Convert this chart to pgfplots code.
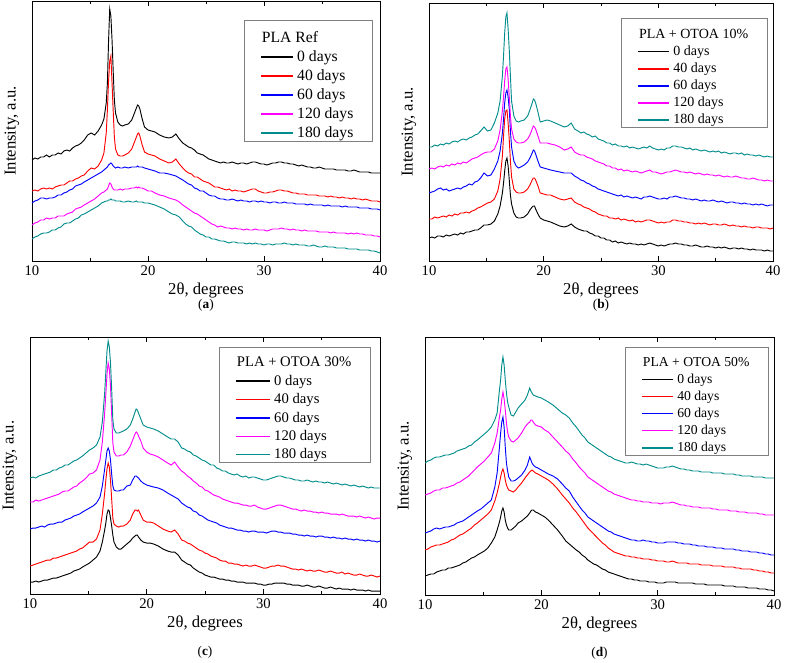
\documentclass[border=0pt]{standalone}
\usepackage{fontspec}
\setmainfont{Liberation Serif}
\usepackage{pgfplots}
\usepackage{pgfplotstable}
\pgfplotsset{compat=1.18}

\definecolor{xrdteal}{RGB}{0,140,140}
\definecolor{xrdmag}{RGB}{255,0,255}

% XRD patterns, intensity in arbitrary (offset) units
% columns: 2theta, 0, 40, 60, 120, 180 days
\pgfplotstableread{
x     k0  k40 k60 k120 k180
10    101 70  58  36  22
10.25 103 71  60  38  24
10.5  102 70  61  39  25
10.75 104 72  63  41  27
11    104 73  63  41  28
11.25 106 72  62  43  28
11.5  104 73  63  42  29
11.75 106 72  63  43  31
12    106 74  64  43  31
12.25 108 75  66  45  33
12.5  107 76  66  45  34
12.75 110 76  68  45  37
13    111 78  69  47  38
13.25 110 80  71  48  38
13.5  113 80  72  49  40
13.75 115 82  75  52  42
14    116 83  76  53  43
14.25 118 85  77  54  46
14.5  121 86  79  56  47
14.8  126 90  81  58  49
15.1  128 93  83  60  51
15.4  126 92  85  62  53
15.7  130 95  87  65  55
16.0  136 101 89  68  58
16.2  142 108 91  69  59
16.4  158 128 93  71  60
16.5  178 151 94  72  60
16.6  220 180 96  75  61
16.7  252 200 97  78  61
16.8  245 205 98  77  62
16.9  221 178 97  74  61
17.0  190 150 95  72  61
17.1  161 124 94  71  61
17.2  148 112 93  71  60
17.4  139 106 94  71  60
17.6  136 105 93  72  60
17.8  135 105 93  71  59
18.0  136 106 94  72  59
18.3  137 108 93  72  60
18.6  141 112 94  73  59
18.8  147 118 94  73  59
19.0  153 124 94  74  60
19.1  156 127 95  73  59
19.2  155 128 94  74  59
19.3  152 125 94  73  59
19.5  142 116 94  73  59
19.7  134 109 93  72  58
20.0  131 107 92  70  58
20.3  130 106 91  70  57
20.6  129 105 90  68  56
21.0  126 102 88  66  54
21.4  124 100 88  65  52
21.8  123 98  87  63  49
22.1  124 99  86  62  47
22.4  127 102 85  61  46
22.7  122 97  83  59  44
23    118 93  81  56  40
23.25 116 90  79  54  37
23.5  114 88  77  52  35
23.75 113 87  76  50  34
24    111 84  73  48  31
24.25 108 84  72  47  29
24.5  107 82  70  45  27
24.75 106 80  70  43  26
25    104 79  68  41  24
25.25 102 78  66  39  24
25.5  101 76  65  37  22
25.75 100 74  65  36  22
26    99  74  63  34  21
26.25 98  73  62  35  20
26.5  99  72  62  34  20
26.75 98  71  61  33  19
27    98  72  61  33  18
27.25 99  70  62  32  19
27.5  98  71  61  33  19
27.75 97  70  60  32  18
28    98  70  61  32  18
28.25 98  69  60  31  18
28.5  97  70  60  32  17
28.75 98  71  59  31  18
29    99  72  60  31  17
29.25 99  72  60  32  18
29.5  98  70  59  31  17
29.75 97  69  60  31  17
30    97  68  59  31  16
30.25 96  68  59  30  17
30.5  97  69  58  31  17
30.75 98  69  59  32  16
31    98  70  59  32  17
31.25 99  71  58  32  17
31.5  99  71  58  33  17
31.75 98  70  59  32  18
32    98  70  58  32  17
32.25 97  69  58  31  17
32.5  97  68  58  32  16
32.75 96  68  57  31  17
33    95  67  57  31  16
33.25 96  67  57  30  16
33.5  95  67  57  31  16
33.75 94  66  56  30  15
34    94  66  57  30  15
34.25 93  66  56  30  16
34.5  93  66  56  30  15
34.75 94  65  56  29  14
35    93  65  56  29  14
35.25 92  65  55  29  15
35.5  92  64  56  29  14
35.75 92  65  55  28  14
36    92  64  55  29  14
36.25 91  64  55  28  13
36.5  91  63  55  28  13
36.75 91  64  54  28  13
37    91  63  55  28  13
37.25 90  63  54  27  12
37.5  90  62  54  28  12
37.75 91  63  54  27  12
38    90  62  54  28  12
38.25 89  62  53  27  11
38.5  89  61  53  27  11
38.75 89  62  53  26  11
39    89  61  53  26  11
39.25 88  60  52  26  10
39.5  88  60  52  25  10
39.75 88  60  52  25  9
40    88  59  51  24  8
}\tabRef

\pgfplotstableread{
x     k0  k40 k60 k120 k180
10    23  42  68  92  114
10.25 24  42  69  93  114
10.5  23  44  70  92  116
10.75 25  43  72  94  115
11    25  44  73  95  117
11.25 24  45  71  94  116
11.5  26  44  72  96  118
11.75 25  46  70  95  117
12    26  45  71  97  119
12.25 27  47  72  96  120
12.5  26  46  73  98  119
12.75 28  48  72  97  121
13    27  48  74  99  122
13.25 29  49  75  98  121
13.5  29  48  77  100 123
13.75 30  50  76  102 124
14    31  51  79  103 126
14.25 31  53  80  104 127
14.5  33  54  83  106 130
14.8  36  56  88  108 134
15.1  36  58  85  109 130
15.4  37  59  86  109 131
15.7  40  62  92  112 138
16.0  47  70  100 120 148
16.2  55  82  110 131 160
16.4  68  105 128 150 185
16.5  78  125 142 164 205
16.6  90  142 158 180 228
16.7  100 150 168 192 244
16.8  103 151 171 194 248
16.9  95  138 164 182 232
17.0  81  121 152 164 211
17.1  66  100 130 145 185
17.2  57  84  114 132 160
17.4  48  72  100 122 145
17.6  44  69  95  119 140
17.8  43  68  93  118 139
18.0  43  68  94  118 140
18.3  44  69  96  119 141
18.6  47  72  99  122 145
18.8  51  76  103 126 151
19.0  54  81  108 132 158
19.1  55  83  111 135 162
19.2  55  83  110 134 161
19.3  52  81  107 132 158
19.5  47  75  100 125 149
19.7  43  68  94  118 139
20.0  41  67  93  118 140
20.3  40  66  92  118 141
20.6  39  66  91  117 140
21.0  37  64  90  116 138
21.4  35  62  89  114 136
21.8  34  61  88  111 134
22.1  35  62  88  112 135
22.4  37  63  88  114 138
22.7  34  59  85  109 132
23    32  57  83  107 130
23.25 31  56  81  106 128
23.5  30  54  80  106 129
23.75 30  53  78  104 127
24    28  52  77  103 126
24.25 27  50  75  102 124
24.5  25  49  74  100 125
24.75 25  47  72  99  122
25    23  46  71  98  121
25.25 23  45  70  97  120
25.5  21  45  69  95  118
25.75 21  43  68  95  118
26    19  43  67  93  116
26.25 20  42  66  93  117
26.5  18  43  65  91  115
26.75 19  41  66  92  115
27    18  42  64  90  114
27.25 17  41  65  91  115
27.5  18  40  64  90  113
27.75 17  41  63  89  114
28    17  39  64  90  113
28.25 16  40  63  89  112
28.5  17  39  62  88  113
28.75 16  40  64  89  114
29    17  41  64  90  113
29.25 18  41  65  91  115
29.5  17  40  64  89  113
29.75 16  39  63  89  112
30    15  38  62  88  111
30.25 16  39  62  87  112
30.5  15  38  63  88  111
30.75 16  39  62  89  113
31    17  39  64  89  113
31.25 17  41  64  90  115
31.5  18  41  65  91  115
31.75 17  40  64  90  114
32    17  40  63  89  114
32.25 16  39  63  89  113
32.5  16  39  62  88  112
32.75 15  38  62  89  113
33    15  38  61  88  111
33.25 16  37  62  87  112
33.5  15  38  61  88  111
33.75 14  37  60  87  110
34    14  38  61  86  111
34.25 15  37  60  87  110
34.5  14  36  60  86  109
34.75 14  37  61  86  110
35    13  37  60  85  109
35.25 14  36  59  86  110
35.5  13  36  60  85  108
35.75 14  37  59  84  109
36    13  36  58  85  108
36.25 12  35  59  84  107
36.5  13  36  59  84  108
36.75 13  35  58  85  108
37    12  35  58  84  107
37.25 13  34  57  83  108
37.5  12  35  58  83  106
37.75 12  34  57  82  107
38    11  34  57  82  106
38.25 12  33  56  83  106
38.5  11  34  57  82  105
38.75 11  34  56  81  106
39    11  33  57  81  105
39.25 10  33  56  80  104
39.5  11  33  55  81  105
39.75 10  32  56  80  104
40    10  33  56  80  104
}\tabTen

\pgfplotstableread{
x     k0  k40 k60 k120 k180
10    12  28  65  92  116
10.25 12  29  66  92  117
10.5  13  30  66  94  116
10.75 12  31  67  93  118
11    13  32  68  94  119
11.25 14  33  67  95  120
11.5  14  34  69  96  121
11.75 15  34  70  97  122
12    16  36  70  98  124
12.25 16  36  71  99  124
12.5  17  37  72  100 126
12.75 18  38  72  102 127
13    19  39  74  103 129
13.25 20  40  75  103 129
13.5  21  41  76  105 131
13.75 23  42  78  107 133
14    24  43  79  108 134
14.25 25  45  80  111 136
14.5  27  46  82  113 138
14.8  29  49  84  116 141
15.1  31  52  86  120 144
15.4  34  52  88  121 146
15.7  37  55  91  124 149
16.0  43  64  97  134 157
16.2  52  80  108 152 172
16.4  64  101 125 181 201
16.5  71  114 134 200 222
16.6  80  125 143 220 243
16.7  84  131 146 231 253
16.8  83  127 143 225 247
16.9  76  114 134 208 231
17.0  68  95  120 180 205
17.1  59  76  108 151 174
17.2  52  70  104 142 165
17.4  47  68  103 138 161
17.6  45  67  103 138 161
17.8  45  68  104 139 162
18.0  47  68  104 139 163
18.3  50  70  108 142 165
18.6  53  74  109 148 169
18.8  56  80  114 154 175
19.0  58  84  118 160 182
19.1  59  84  118 162 185
19.2  59  83  117 161 184
19.3  57  84  116 158 181
19.5  54  79  113 153 175
19.7  52  74  111 146 169
20.0  51  72  109 142 167
20.3  51  72  108 140 166
20.6  50  71  107 139 165
21.0  48  68  106 137 163
21.4  45  65  104 134 160
21.8  43  63  101 131 157
22.1  42  62  99  129 155
22.4  42  64  97  132 155
22.7  39  60  95  127 152
23    34  54  91  123 146
23.25 32  53  89  121 145
23.5  30  51  87  118 143
23.75 29  50  86  116 142
24    26  48  83  113 139
24.25 24  46  82  111 138
24.5  22  44  79  108 136
24.75 21  43  78  107 134
25    19  41  76  104 133
25.25 18  40  74  103 131
25.5  17  38  73  101 129
25.75 17  37  72  99  129
26    16  36  71  98  126
26.25 15  34  69  97  125
26.5  15  33  68  95  123
26.75 14  33  67  94  123
27    14  31  66  93  121
27.25 13  31  66  92  120
27.5  13  30  65  91  119
27.75 12  30  64  91  120
28    12  29  64  90  118
28.25 12  28  63  89  117
28.5  11  29  63  89  118
28.75 11  28  62  88  116
29    11  28  63  88  117
29.25 11  29  63  89  117
29.5  10  28  62  87  116
29.75 10  27  62  86  115
30    9   26  62  85  114
30.25 9   26  61  85  114
30.5  10  27  62  86  115
30.75 10  28  63  87  116
31    11  28  63  88  117
31.25 11  29  62  89  118
31.5  11  28  62  89  118
31.75 11  28  61  88  117
32    10  27  61  87  116
32.25 10  26  61  86  116
32.5  9   25  60  85  115
32.75 9   25  60  85  114
33    9   24  59  84  114
33.25 8   25  59  83  113
33.5  8   24  58  84  113
33.75 9   23  59  83  114
34    8   24  58  83  113
34.25 7   23  58  82  112
34.5  7   23  57  82  113
34.75 8   24  58  81  112
35    7   23  58  82  112
35.25 6   22  57  81  111
35.5  6   22  57  81  112
35.75 7   23  56  80  111
36    6   22  57  80  110
36.25 5   21  56  80  111
36.5  6   21  56  79  110
36.75 5   22  55  80  109
37    5   20  56  79  110
37.25 5   21  55  78  109
37.5  4   20  55  78  108
37.75 5   19  54  78  109
38    4   19  55  77  108
38.25 4   20  54  78  107
38.5  4   19  54  77  108
38.75 3   18  53  76  107
39    4   18  54  77  106
39.25 3   19  53  76  107
39.5  3   18  53  75  106
39.75 3   17  52  76  106
40    3   18  53  76  106
}\tabThirty

\pgfplotstableread{
x     k0  k40 k60 k120 k180
10    19  45  62  100 132
10.25 20  46  63  101 134
10.5  21  48  64  102 135
10.75 21  49  66  104 137
11    23  50  67  105 138
11.25 24  50  66  105 138
11.5  25  51  67  107 139
11.75 25  52  68  107 140
12    27  53  68  108 140
12.25 27  55  69  109 141
12.5  28  56  70  110 142
12.75 29  58  72  112 144
13    30  60  73  113 145
13.25 32  61  74  115 146
13.5  33  63  76  117 147
13.75 35  65  78  119 149
14    37  67  80  122 150
14.25 38  70  82  125 153
14.5  40  72  84  128 155
14.8  42  75  86  131 158
15.1  44  78  89  134 161
15.4  47  81  92  138 164
15.7  52  85  95  142 168
16.0  58  94  108 152 175
16.2  65  102 122 162 182
16.4  73  112 148 178 205
16.5  78  118 162 185 215
16.6  84  123 173 196 230
16.7  87  126 178 203 238
16.8  83  122 168 196 230
16.9  75  115 148 185 215
17.0  70  110 132 172 202
17.1  67  107 124 163 193
17.2  65  105 118 158 188
17.4  65  104 114 154 180
17.6  67  103 114 153 179
17.8  69  105 115 155 183
18.0  72  108 117 157 187
18.3  74  112 120 162 191
18.6  77  117 125 168 195
18.8  79  120 130 171 200
19.0  82  123 138 173 207
19.1  84  124 135 175 204
19.2  85  125 132 175 202
19.3  85  124 130 173 200
19.5  83  122 128 170 199
19.7  82  121 127 169 198
20.0  80  119 125 168 197
20.3  78  117 123 165 195
20.6  75  115 121 163 193
21.0  70  111 119 158 190
21.4  65  106 116 153 186
21.8  59  100 111 148 182
22.1  54  96  107 144 180
22.4  51  92  104 141 177
22.7  48  87  98  136 172
23    45  83  93  132 168
23.25 43  79  89  128 164
23.5  40  75  85  125 160
23.75 38  71  82  122 157
24    35  67  78  118 153
24.25 33  64  76  116 151
24.5  31  61  74  114 149
24.75 30  58  72  112 147
25    28  55  70  110 145
25.25 26  52  68  108 143
25.5  25  50  66  106 141
25.75 23  47  64  104 139
26    22  45  63  103 138
26.25 21  43  61  101 136
26.5  20  42  60  100 135
26.75 19  41  59  99  134
27    18  40  58  98  133
27.25 17  39  57  97  132
27.5  16  39  56  96  132
27.75 16  38  55  95  133
28    15  38  55  95  132
28.25 15  37  54  94  131
28.5  14  37  54  94  131
28.75 14  36  55  93  130
29    14  36  54  93  131
29.25 13  36  54  93  130
29.5  13  35  53  92  129
29.75 13  35  53  92  128
30    12  34  52  92  127
30.25 12  34  52  91  127
30.5  12  34  52  92  127
30.75 13  33  53  92  128
31    13  33  53  92  128
31.25 13  34  53  93  129
31.5  13  33  53  92  128
31.75 12  32  52  91  127
32    12  32  52  90  126
32.25 12  32  51  90  126
32.5  12  32  51  89  125
32.75 12  31  51  89  125
33    12  31  50  88  124
33.25 11  31  50  88  124
33.5  11  31  49  88  124
33.75 11  30  49  87  123
34    11  30  49  87  123
34.25 10  30  48  87  123
34.5  10  30  48  87  123
34.75 10  29  48  86  122
35    10  29  47  86  122
35.25 10  29  47  85  122
35.5  10  29  47  85  122
35.75 9   28  46  85  121
36    9   28  46  85  121
36.25 9   28  46  84  121
36.5  9   28  46  84  121
36.75 8   27  45  84  120
37    8   27  45  83  120
37.25 8   26  44  83  119
37.5  8   26  44  83  119
37.75 7   26  44  82  119
38    7   26  43  82  119
38.25 7   25  43  82  118
38.5  7   25  43  82  118
38.75 6   24  42  81  118
39    6   24  42  81  118
39.25 6   23  41  80  117
39.5  5   23  41  80  117
39.75 5   22  40  80  117
40    4   22  40  80  117
}\tabFifty

\pgfplotsset{
  xrd/.style={
    scale only axis, xmin=10, xmax=40, ymin=0,
    clip mode=individual,
    xtick={10,20,30,40}, minor xtick={15,25,35}, ytick=\empty,
    tick align=inside, xtick pos=both, xticklabel pos=lower,
    major tick length=3.75pt, minor tick length=2.25pt,
    axis line style={line width=0.7pt},
    every tick/.style={black, line width=0.6pt},
    tick label style={font=\fontsize{11}{13}\selectfont},
    /pgf/number format/assume math mode=true,
    xlabel={2θ, degrees}, ylabel={Intensity, a.u.},
    label style={font=\fontsize{12.5}{14}\selectfont},
    xlabel style={at={([yshift=-22pt]axis description cs:0.5,0)}, anchor=center},
    ylabel style={at={([xshift=-15pt]axis description cs:0,0.5)}, anchor=center},
    legend cell align=left,
    every axis plot/.append style={line width=0.7pt, mark=none},
  },
  % #1,#2 corner, #3 font size, #4 sample length, #5 row sep
  xrdlegend/.style n args={5}{%
    legend style={at={(axis description cs:#1,#2)}, anchor=north east,
      draw=gray, line width=0.5pt, fill=white,
      font=\fontsize{#3}{#3}\selectfont,
      inner xsep=12pt, inner ysep=0.5pt, column sep=0pt, row sep=#5,
      nodes={inner xsep=2.5pt, inner ysep=0.5pt}},
    legend image code/.code={\draw[##1, line width=1.2pt] (0pt,0pt) -- (#4,0pt);},
  },
}

% strut for the legend rows: height #1 above and \lgd below the baseline
\newcommand\lgstrut[1]{\rule[-\lgd]{0pt}{\dimexpr#1+\lgd\relax}}
% #1 table, #2 legend title, #3 shift of the title back over the samples, #4 strut above the title
\newcommand\xrdcurves[4]{%
  \addlegendimage{empty legend}
  \addlegendentry{\hspace*{-#3}\lgstrut{#4}#2}
  \addplot[black] table[x=x, y=k0] {#1};
  \addlegendentry{\lgstrut{\lgh}0 days}
  \addplot[red] table[x=x, y=k40] {#1};
  \addlegendentry{\lgstrut{\lgh}40 days}
  \addplot[blue] table[x=x, y=k60] {#1};
  \addlegendentry{\lgstrut{\lgh}60 days}
  \addplot[xrdmag] table[x=x, y=k120] {#1};
  \addlegendentry{\lgstrut{\lgh}120 days}
  \addplot[xrdteal] table[x=x, y=k180] {#1};
  \addlegendentry{\lgstrut{\lgh}180 days}
}

\begin{document}
\begin{tikzpicture}
\path[use as bounding box] (0,0) rectangle (590.25pt,496.5pt);

% (a) PLA reference
\def\lgh{8.3pt}\def\lgd{2.6pt}
\begin{axis}[xrd, at={(24pt,495.75pt)}, anchor=north west,
  width=261pt, height=195pt, ymax=260,
  xrdlegend={0.980}{0.927}{11.75}{24pt}{3.4pt}]
\xrdcurves{\tabRef}{PLA Ref}{26.5pt}{15.9pt}
\node[font=\fontsize{10}{12}\selectfont] at ([yshift=-33pt]axis description cs:0.5,0) {(\textbf{a})};
\end{axis}

% (b) 10% OTOA
\def\lgh{7.4pt}\def\lgd{2.4pt}
\begin{axis}[xrd, at={(321.75pt,494.25pt)}, anchor=north west,
  width=258pt, height=193.5pt, ymax=258,
  xrdlegend={0.985}{0.941}{10.5}{23.25pt}{2.9pt}]
\xrdcurves{\tabTen}{PLA + OTOA 10\%}{25.75pt}{14pt}
\node[font=\fontsize{10}{12}\selectfont] at ([yshift=-33pt]axis description cs:0.5,0) {(\textbf{b})};
\end{axis}

% (c) 30% OTOA
\def\lgh{7.8pt}\def\lgd{2.4pt}
\begin{axis}[xrd, at={(22.5pt,243.75pt)}, anchor=north west,
  width=262.5pt, height=192.75pt, ymax=257,
  xrdlegend={0.974}{0.961}{11}{25.5pt}{3.5pt}]
\xrdcurves{\tabThirty}{PLA + OTOA 30\%}{28pt}{13.65pt}
\node[font=\fontsize{10}{12}\selectfont] at ([yshift=-43.5pt]axis description cs:0.5,0) {(\textbf{c})};
\end{axis}

% (d) 50% OTOA
\def\lgh{7.2pt}\def\lgd{2.3pt}
\begin{axis}[xrd, at={(318.75pt,243.75pt)}, anchor=north west,
  width=261.75pt, height=193.5pt, ymax=258,
  xrdlegend={0.986}{0.961}{10.25}{23.25pt}{3.1pt}]
\xrdcurves{\tabFifty}{PLA + OTOA 50\%}{25.75pt}{13.1pt}
\node[font=\fontsize{10}{12}\selectfont] at ([yshift=-43.5pt]axis description cs:0.5,0) {(\textbf{d})};
\end{axis}
\end{tikzpicture}
\end{document}
